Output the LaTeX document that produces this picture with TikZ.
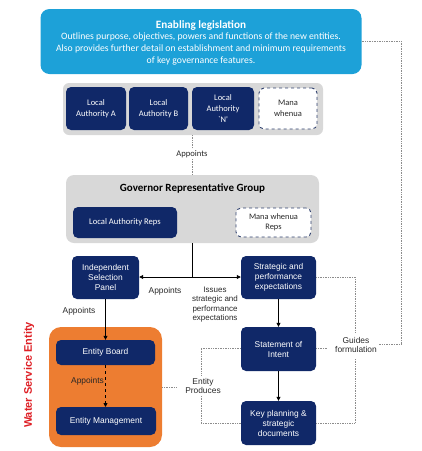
\documentclass[tikz,border=0pt]{standalone}
\usepackage{fontspec}
\setmainfont{Liberation Sans}
\newfontfamily\carl{Carlito}
\usetikzlibrary{arrows.meta}
\definecolor{navy}{RGB}{16,40,104}
\definecolor{legblue}{RGB}{29,161,216}
\definecolor{bandgray}{RGB}{216,216,216}
\definecolor{orangebox}{RGB}{237,125,49}
\definecolor{redtxt}{RGB}{222,30,36}
\definecolor{txtgray}{RGB}{40,40,40}
\definecolor{dotgray}{RGB}{140,140,140}
\tikzset{
  navybox/.style={rectangle, rounded corners=5pt, fill=navy, text=white, align=center, inner sep=1pt},
  dashbox/.style={rectangle, rounded corners=5pt, fill=white, draw=navy!70!gray, dashed, line width=0.9pt, text=txtgray, align=center, inner sep=1pt},
  lbl/.style={text=txtgray, align=center, inner sep=1pt, font=\fontsize{8.4}{9.7}\selectfont},
  dotline/.style={draw=dotgray, line width=0.6pt, dash pattern=on 0.8pt off 0.9pt},
  arr/.style={-{Triangle[length=4pt,width=4pt]}, line width=0.8pt, draw=black},
}
\begin{document}
\begin{tikzpicture}[x=1pt,y=-1pt]
\useasboundingbox (0,0) rectangle (422,451);
% top legislation
\node[rectangle, rounded corners=9pt, fill=legblue, minimum width=321pt, minimum height=65pt, inner sep=0pt] (leg) at (201,41.5) {};
\node[text=white, align=center, inner sep=0pt] (legtxt) at (201,43) {\carl\fontsize{11.2}{12}\selectfont\bfseries Enabling legislation\\[-0.5pt]
\carl\fontsize{9.7}{12}\selectfont Outlines purpose, objectives, powers and functions of the new entities.\\
\carl\fontsize{9.7}{12}\selectfont Also provides further detail on establishment and minimum requirements\\
\carl\fontsize{9.7}{12}\selectfont of key governance features.};
% band of local authorities
\node[rectangle, rounded corners=6pt, fill=bandgray, minimum width=260pt, minimum height=52pt, inner sep=0pt] (band) at (193,109) {};
\node[navybox, minimum width=60pt, minimum height=43pt, font=\carl\fontsize{8.5}{10.8}\selectfont] (laa) at (96,108.5) {Local\\Authority A};
\node[navybox, minimum width=59pt, minimum height=43pt, font=\carl\fontsize{8.5}{10.8}\selectfont] (lab) at (158.5,108.5) {Local\\Authority B};
\node[navybox, minimum width=62pt, minimum height=43pt, font=\carl\fontsize{8.5}{10.8}\selectfont] (lan) at (223,108.5) {Local\\Authority\\`N'};
\node[dashbox, minimum width=58pt, minimum height=41pt, font=\carl\fontsize{8.5}{10.8}\selectfont] (mana) at (288,108.5) {Mana\\whenua};
% GRG
\node[rectangle, rounded corners=8pt, fill=bandgray, minimum width=253pt, minimum height=68pt, inner sep=0pt] (grg) at (192.5,209) {};
\node[text=black, inner sep=0pt, font=\carl\fontsize{11}{12}\selectfont\bfseries] (grgt) at (192.5,188.5) {Governor Representative Group};
\node[navybox, minimum width=104pt, minimum height=31pt, font=\carl\fontsize{8.6}{10}\selectfont] (lar) at (125,222.5) {Local Authority Reps};
\node[dashbox, minimum width=75pt, minimum height=29pt, font=\carl\fontsize{8.4}{10}\selectfont] (mwr) at (273.5,222.5) {Mana whenua\\Reps};
\coordinate (ap1) at (192,135);
\draw[dotline] (ap1) -- (192,175);
\node[lbl, fill=white, font=\carl\fontsize{8.6}{9}\selectfont] (appt1) at (192,154) {Appoints};
% ISP and SPE
\node[navybox, minimum width=67pt, minimum height=43pt, font=\fontsize{8.4}{10}\selectfont] (isp) at (105.5,277.5) {Independent\\Selection\\Panel};
\node[navybox, minimum width=75pt, minimum height=43pt, font=\fontsize{8.4}{10}\selectfont] (spe) at (278.5,277.5) {Strategic and\\performance\\expectations};
\coordinate (junc) at (192,277);
\draw[line width=0.8pt] (192,243) -- (junc);
\draw[arr] (junc) -- (isp.east |- junc);
\draw[arr] (junc) -- (spe.west |- junc);
\node[lbl] (appt2) at (165,291.5) {Appoints};
\node[lbl, font=\fontsize{8}{9.6}\selectfont] (issues) at (215,304.5) {Issues\\strategic and\\performance\\expectations};
% water service entity
\node[rectangle, rounded corners=12pt, fill=orangebox, minimum width=113pt, minimum height=120pt, inner sep=0pt] (ws) at (105.5,387) {};
\node[navybox, minimum width=99pt, minimum height=25pt, font=\fontsize{8.4}{10}\selectfont] (eb) at (105.5,352.5) {Entity Board};
\node[navybox, minimum width=100pt, minimum height=28pt, font=\fontsize{8.4}{10}\selectfont] (em) at (106,421) {Entity Management};
\node[rotate=90, text=redtxt, inner sep=0pt, font=\fontsize{11}{12}\selectfont\bfseries] (wstxt) at (29,375) {Water Service Entity};
\draw[arr] (isp.south) -- (isp.south |- eb.north);
\node[lbl] (appt3) at (79,311) {Appoints};
\draw[arr, dashed] (105.5,365) -- (105.5,407);
\node[lbl, text=black!85] (appt4) at (87.5,381) {Appoints};
% SoI and KP
\node[navybox, minimum width=75pt, minimum height=44pt, font=\fontsize{8.4}{10}\selectfont] (soi) at (278.5,349) {Statement of\\Intent};
\node[navybox, minimum width=75pt, minimum height=44pt, font=\fontsize{8.4}{10}\selectfont] (kp) at (278.5,423) {Key planning \&\\strategic\\documents};
\draw[arr] (spe.south) -- (soi.north);
\draw[arr] (soi.south) -- (kp.north);
% dotted: legislation guides
\coordinate (g1) at (401,41);
\coordinate (g2) at (401,344);
\coordinate (g3) at (378,344);
\draw[dotline] (leg.east |- g1) -- (g1) -- (g2) -- (g3);
\node[lbl] (guides) at (356,345) {Guides\\formulation};
\draw[dotline] (spe.east |- 0,277) -- (355,277) -- (355,332);
\draw[dotline] (355,359) -- (355,423) -- (kp.east |- 0,423);
\draw[dotline] (soi.east |- 0,348) -- (328,348);
% entity produces
\draw[dotline] (soi.west |- 0,348) -- (201,348) -- (201,375);
\draw[dotline] (201,396) -- (201,423) -- (kp.west |- 0,423);
\draw[dotline] (ws.east |- 0,387) -- (177,387);
\node[lbl] (produces) at (203,386) {Entity\\Produces};
\end{tikzpicture}
\end{document}
